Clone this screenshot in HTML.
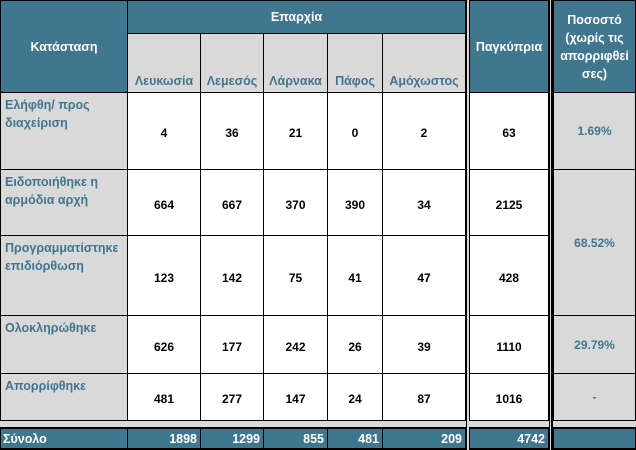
<!DOCTYPE html>
<html><head><meta charset="utf-8">
<style>
html,body{margin:0;padding:0;}
body{width:636px;height:450px;position:relative;background:#d9d9d9;overflow:hidden;font-family:"Liberation Sans","DejaVu Sans",sans-serif;font-weight:bold;font-size:12px;}
.c{position:absolute;box-sizing:border-box;border:1px solid #000;display:flex;overflow:hidden;line-height:18px;}
.hb{background:#41768f;color:#fff;align-items:center;justify-content:center;text-align:center;font-size:12.5px;}
.sub{background:#d9d9d9;color:#41758f;align-items:flex-end;justify-content:center;padding-bottom:2px;font-size:12.5px;}
.lab{background:#d9d9d9;color:#41758f;align-items:flex-start;padding:3px 0 0 4px;font-size:12.5px;}
.num{background:#fff;color:#000;align-items:center;justify-content:center;padding-top:4px;}
.pct{background:#d9d9d9;color:#41758f;align-items:center;justify-content:center;}
.tot{background:#41768f;color:#fff;align-items:center;justify-content:flex-end;padding-right:3px;border-width:2px 1px 2px 1px;font-size:12.5px;}
</style></head>
<body>
<script>
const cols=[[127,200],[200,263],[263,327],[327,382],[382,465],[469,548]];
const districts=["Λευκωσία","Λεμεσός","Λάρνακα","Πάφος","Αμόχωστος"];
const rowLabels=["Ελήφθη/ προς διαχείριση","Ειδοποιήθηκε η αρμόδια αρχή","Προγραμματίστηκε επιδιόρθωση","Ολοκληρώθηκε","Απορρίφθηκε"];
const rowY=[[92,170],[169,236],[235,316],[315,374],[373,421]];
const values=[[4,36,21,0,2,63],[664,667,370,390,34,2125],[123,142,75,41,47,428],[626,177,242,26,39,1110],[481,277,147,24,87,1016]];
const totals=[1898,1299,855,481,209,4742];
const pcts=[["1.69%",92,170],["68.52%",169,316],["29.79%",315,374],["-",373,421]];
function cell(cls,x0,y0,x1,y1,html){const d=document.createElement('div');d.className='c '+cls;d.style.left=x0+'px';d.style.top=y0+'px';d.style.width=(x1-x0)+'px';d.style.height=(y1-y0)+'px';d.innerHTML=html;document.body.appendChild(d);return d;}
let e;
e=cell('hb',0,0,128,93,'Κατάσταση');


e=cell('hb',127,0,466,34,'Επαρχία');


districts.forEach((t,i)=>{const c=cols[i];
e=cell('sub',c[0],33,c[1]+1,93,t);

});
e=cell('hb',469,0,549,93,'Παγκύπρια');


e=cell('hb',553,0,636,93,'Ποσοστό<br>(χωρίς τις<br>απορριφθεί<br>σες)');


rowLabels.forEach((t,r)=>{const y=rowY[r];
e=cell('lab',0,y[0],128,y[1],'<span style="width:122px">'+t+'</span>');


values[r].forEach((v,i)=>{const c=cols[i];
e=cell('num',c[0],y[0],c[1]+1,y[1],String(v));

});});
pcts.forEach(p=>{
e=cell('pct',553,p[1],636,p[2],p[0]);

});
e=cell('tot',0,427,128,450,'<span style="margin-right:auto;padding-left:2px">Σύνολο</span>');


totals.forEach((v,i)=>{const c=cols[i];
e=cell('tot',c[0],427,c[1]+1,450,String(v));

});
e=cell('tot',553,427,636,450,'');


</script>
<div style="position:absolute;left:466px;top:0;width:1px;height:450px;background:#000"></div>
<div style="position:absolute;left:549px;top:0;width:1px;height:450px;background:#000"></div>
<div style="position:absolute;left:551px;top:0;width:2px;height:450px;background:#000"></div>
</body></html>
